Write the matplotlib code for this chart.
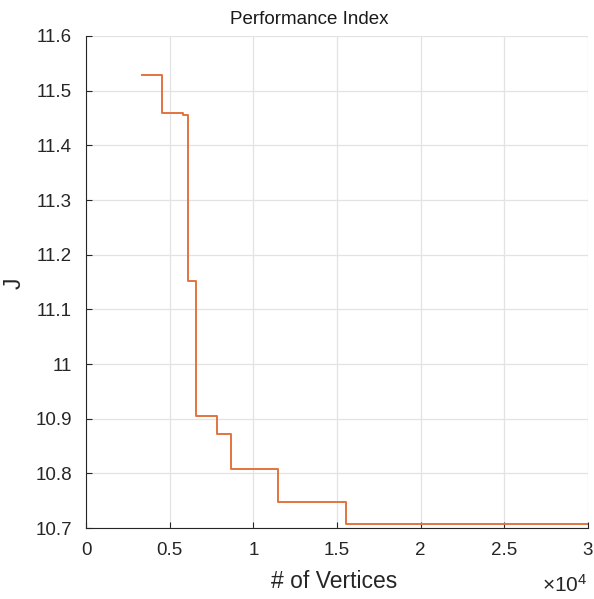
import matplotlib
matplotlib.use('Agg')
import matplotlib.pyplot as plt

# step data
vertices = [3350, 4540, 5800, 6100, 6570, 7850, 8670, 11500, 15540, 30000]
J = [11.529, 11.459, 11.455, 11.151, 10.904, 10.872, 10.808, 10.747, 10.707, 10.707]

x_ticks = [0, 5000, 10000, 15000, 20000, 25000, 30000]
x_labels = ['0', '0.5', '1', '1.5', '2', '2.5', '3']
y_ticks = [10.7, 10.8, 10.9, 11.0, 11.1, 11.2, 11.3, 11.4, 11.5, 11.6]
y_labels = ['10.7', '10.8', '10.9', '11', '11.1', '11.2', '11.3', '11.4', '11.5', '11.6']

plt.rcParams['font.family'] = ['Liberation Sans', 'DejaVu Sans']
plt.rcParams['mathtext.fontset'] = 'custom'
plt.rcParams['mathtext.rm'] = 'Liberation Sans'

fig = plt.figure(figsize=(5.94, 5.99), dpi=100)
ax = fig.add_axes([0.1448, 0.1185, 0.8451, 0.8214])

ax.step(vertices, J, where='post', color='#E2743F', linewidth=1.4)

ax.set_xlim(0, 30000)
ax.set_ylim(10.7, 11.6)
ax.set_xticks(x_ticks)
ax.set_xticklabels(x_labels)
ax.set_yticks(y_ticks)
ax.set_yticklabels(y_labels)

ax.grid(True, color='#e3e3e3', linewidth=0.9)
ax.set_axisbelow(True)
for s in ['top', 'right']:
    ax.spines[s].set_visible(False)
for s in ['left', 'bottom']:
    ax.spines[s].set_color('#262626')
    ax.spines[s].set_linewidth(0.8)
ax.tick_params(direction='in', length=4, colors='#262626', labelsize=13.5, pad=10)

# title sits a bit left of the axes centre in the reference
ax.set_title('Performance Index', fontsize=13.5, color='#1a1a1a',
             x=0.444, y=1.0244, va='baseline', pad=0)
ax.set_xlabel('# of Vertices', fontsize=16.5, color='#262626', va='baseline')
ax.xaxis.set_label_coords(0.495, -0.122)
ax.set_ylabel('J', fontsize=16.5, color='#262626', va='center')
ax.yaxis.set_label_coords(-0.143, 0.498)
fig.text(587 / 594, 1 - 592 / 599, r'$\times\mathregular{10^{4}}$', ha='right',
         va='baseline', fontsize=15, color='#262626')

fig.savefig('out.png', dpi=100)
